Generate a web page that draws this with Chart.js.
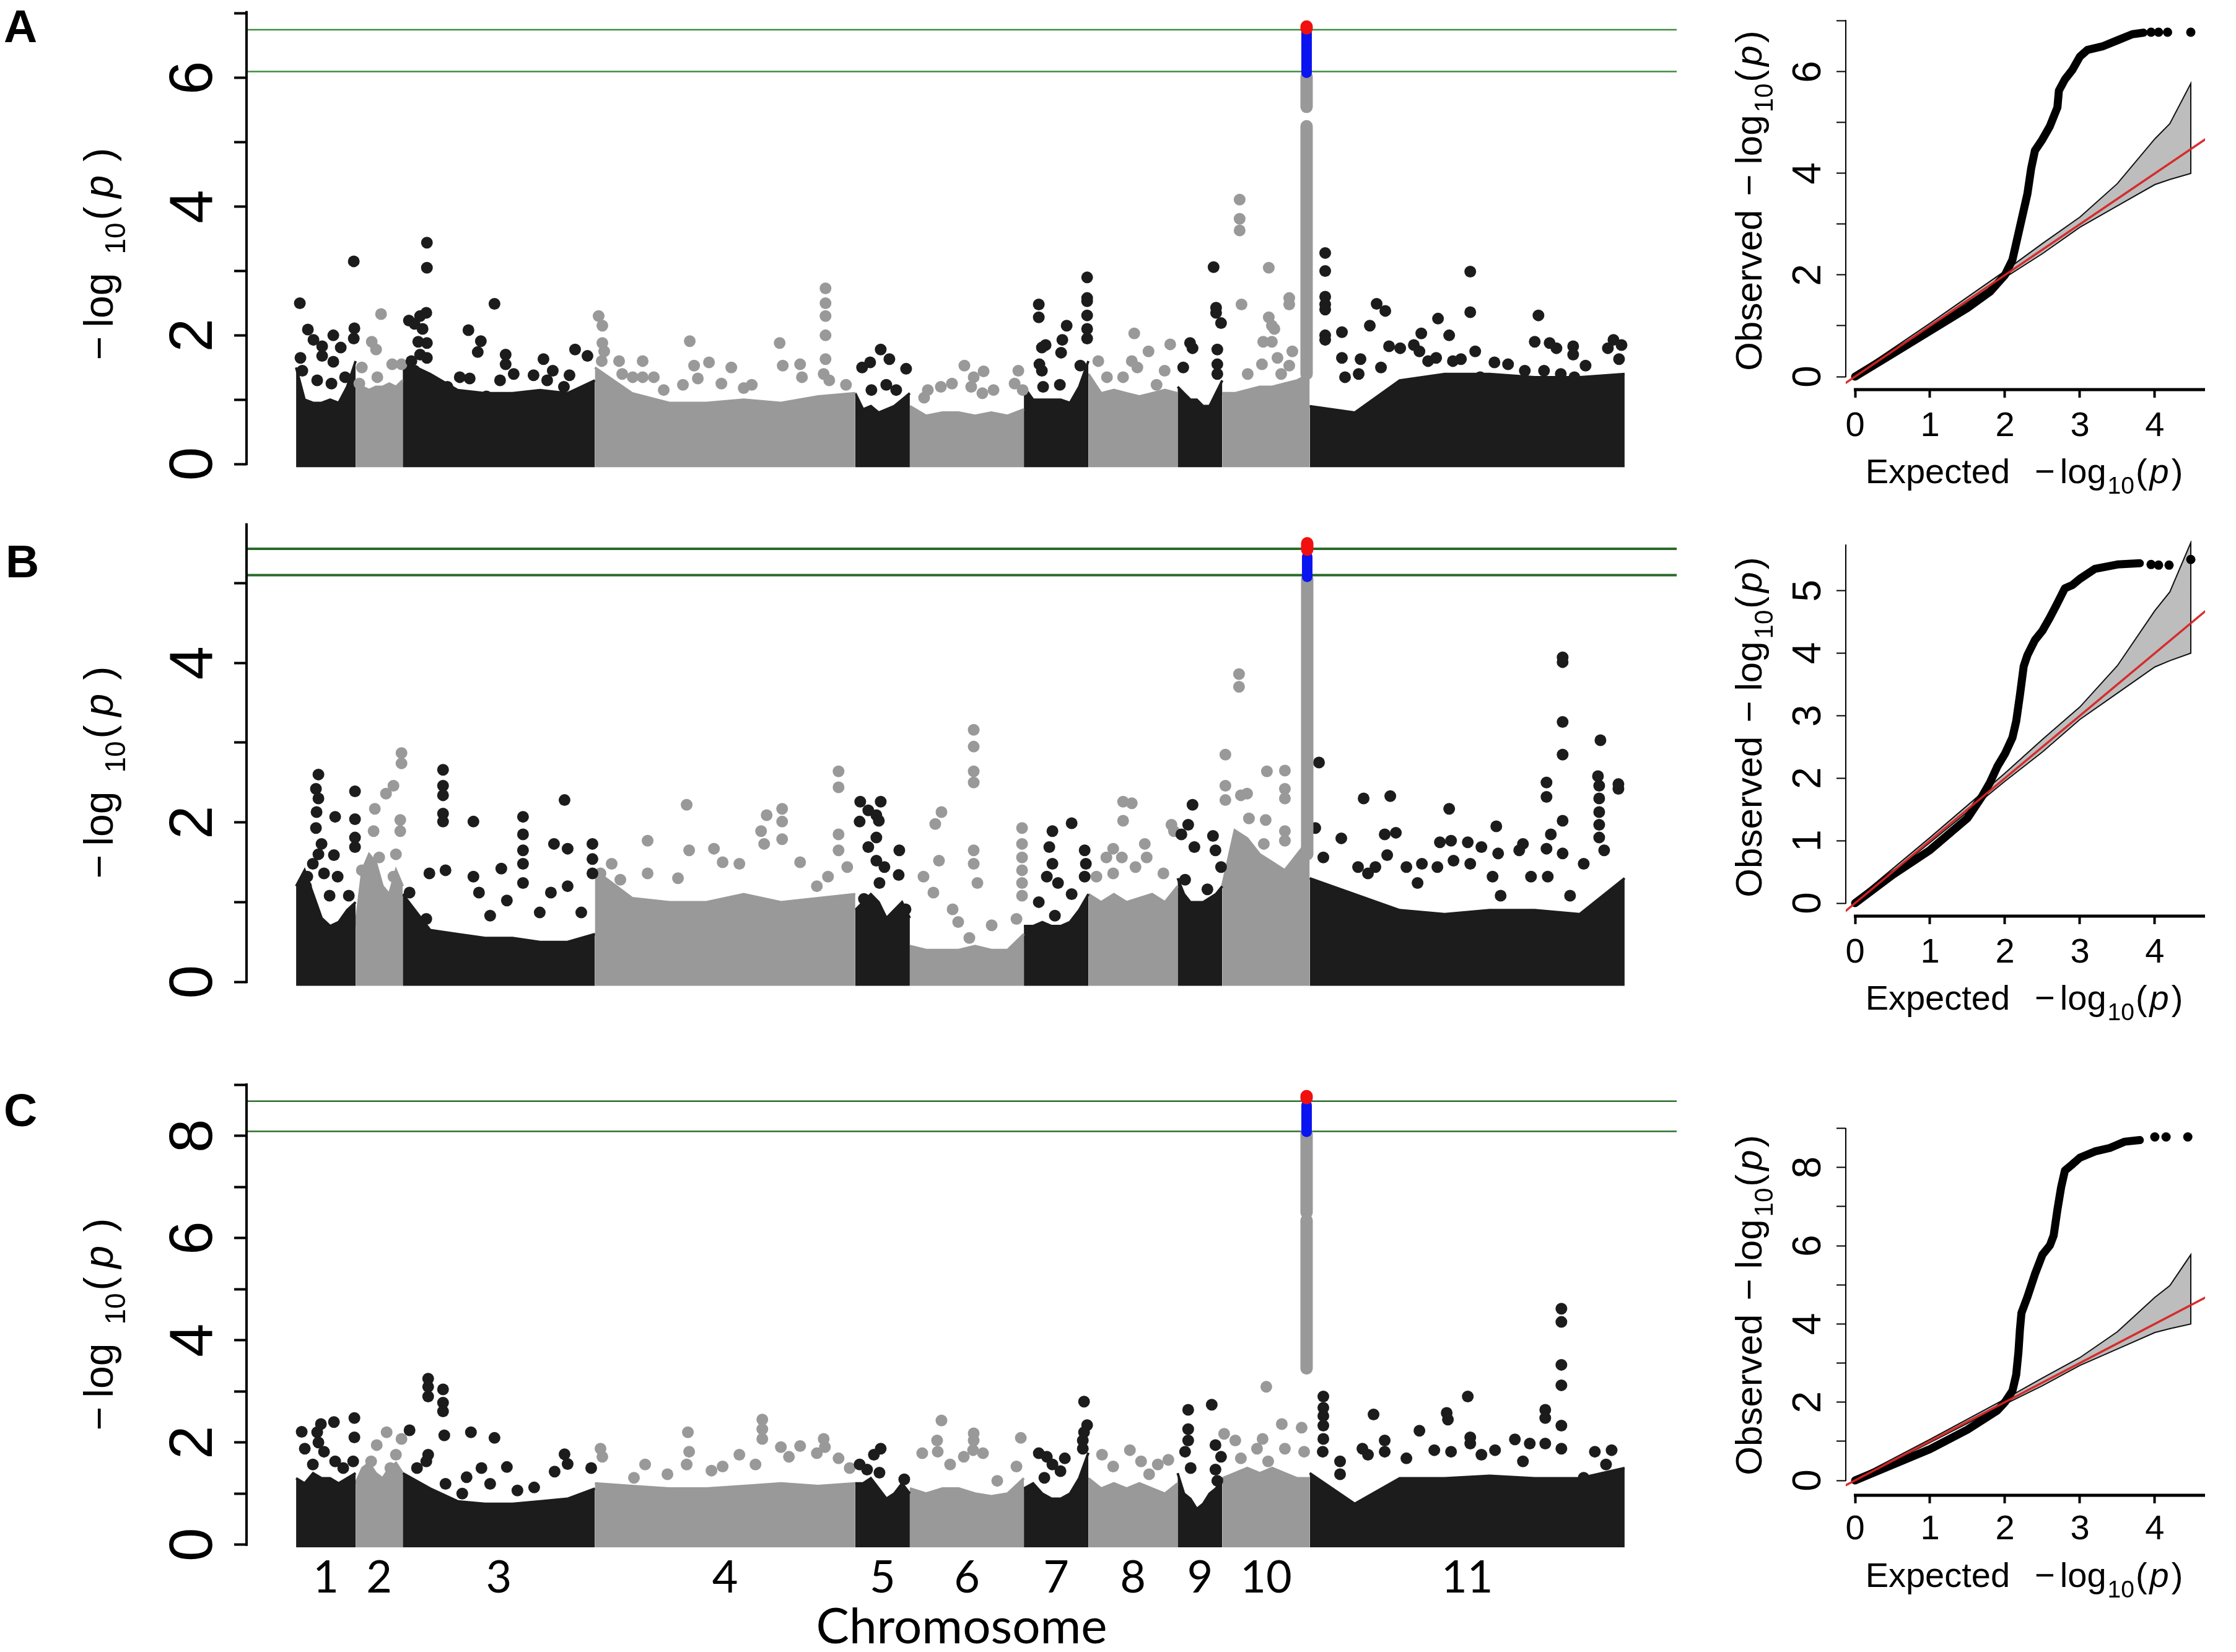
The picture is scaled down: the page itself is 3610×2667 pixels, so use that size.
<!DOCTYPE html>
<html><head><meta charset="utf-8">
<script src="https://cdn.jsdelivr.net/npm/chart.js@4.4.1/dist/chart.umd.min.js"></script>
<style>
html,body{margin:0;padding:0;background:#fff;}
body{width:3610px;height:2667px;position:relative;overflow:hidden;}
canvas{position:absolute;}
.lbl{position:absolute;font:bold 75px 'Liberation Sans',Arial,sans-serif;line-height:75px;color:#000;}
</style></head><body>
<div class="lbl" style="left:6px;top:5px">A</div>
<div class="lbl" style="left:9px;top:869px">B</div>
<div class="lbl" style="left:6px;top:1755px">C</div>
<canvas id="m0"></canvas><canvas id="m1"></canvas><canvas id="m2"></canvas>
<canvas id="q0"></canvas><canvas id="q1"></canvas><canvas id="q2"></canvas>
<script>
// ---------------- DATA ----------------
const chrLabels = ['1','2','3','4','5','6','7','8','9','10','11'];
// relative chromosome sizes (marker counts, hundreds)
const chrSizes = [96,76,310,420,88,184,104,144,72,141,508];

// upper edge of the dense marker band, 8 samples along each chromosome
const envA = [
 [1.5,1.0,0.95,0.95,1.0,0.95,1.2,1.6],[1.3,1.2,1.15,1.2,1.2,1.25,1.2,1.3],
 [1.6,1.4,1.15,1.1,1.1,1.15,1.1,1.3],[1.5,1.1,0.95,0.95,1.0,0.95,1.05,1.1],
 [1.1,0.85,0.9,0.8,0.85,0.9,1.0,1.1],[0.9,0.75,0.8,0.8,0.75,0.8,0.75,0.85],
 [1.2,1.0,1.0,1.0,1.0,0.95,1.2,1.6],[1.4,1.1,1.15,1.1,1.05,1.1,1.15,1.1],
 [1.2,1.1,1.0,1.0,0.9,0.9,1.1,1.3],[1.1,1.1,1.15,1.2,1.2,1.25,1.3,1.4],
 [0.9,0.8,1.3,1.4,1.4,1.35,1.35,1.4]];
const envB = [
 [1.2,1.4,1.1,0.8,0.7,0.75,0.9,1.0],[0.7,1.4,1.6,1.5,1.2,1.1,1.4,1.2],
 [1.1,0.65,0.6,0.55,0.55,0.5,0.5,0.6],[1.4,1.05,1.0,1.0,1.1,1.0,1.05,1.1],
 [0.9,1.0,1.1,1.0,0.8,0.9,1.0,0.8],[0.45,0.4,0.4,0.4,0.45,0.4,0.4,0.6],
 [0.7,0.7,0.75,0.7,0.7,0.75,0.9,1.1],[1.1,1.0,1.1,1.0,1.05,1.1,1.0,1.2],
 [1.3,1.1,1.0,1.0,1.0,1.05,1.1,1.2],[1.2,1.9,1.8,1.6,1.5,1.4,1.6,1.8],
 [1.3,1.1,0.9,0.85,0.9,0.9,0.85,1.3]];
const envC = [
 [1.3,1.2,1.4,1.3,1.3,1.2,1.3,1.4],[1.2,1.5,1.6,1.4,1.3,1.5,1.6,1.4],
 [1.4,1.1,0.85,0.8,0.8,0.85,0.9,1.1],[1.2,1.15,1.1,1.1,1.15,1.2,1.15,1.2],
 [1.2,1.2,1.3,1.1,0.9,1.0,1.2,1.0],[1.1,1.0,1.1,1.1,1.0,0.95,1.0,1.3],
 [1.1,1.2,1.0,0.9,0.9,1.0,1.3,1.8],[1.3,1.1,1.2,1.1,1.2,1.1,1.0,1.2],
 [1.4,1.0,0.9,0.7,0.8,1.0,1.1,1.3],[1.3,1.4,1.5,1.4,1.5,1.4,1.3,1.3],
 [1.4,0.8,1.3,1.3,1.35,1.3,1.3,1.5]];
const bandBase = [-0.05,-0.05,-0.05];

// individual markers above the band: [cumulative position, -log10(p)]
const ptsA = [
 [6,2.5],[19,2.09],[28,1.93],[42,1.83],[42,1.68],[60,2.0],[72,1.81],[93,3.15],[94,2.11],[93,1.95],[7,1.65],[60,1.59],[79,1.35],[34,1.3],[10,1.45],[57,1.25],
 [137,2.33],[122,1.9],[129,1.78],[131,1.35],[155,1.55],[170,1.55],[106,1.5],[102,1.25],
 [211,3.44],[211,3.05],[210,2.35],[200,2.3],[182,2.23],[191,2.18],[204,2.1],[197,1.9],[211,1.88],[200,1.7],[186,1.6],[211,1.65],[191,1.45],[320,2.49],[278,2.08],[298,1.91],[293,1.74],[338,1.7],[338,1.55],[399,1.63],[450,1.78],[470,1.68],[414,1.45],[441,1.38],[264,1.35],[280,1.33],[351,1.4],[383,1.38],[405,1.3],[432,1.2],[329,1.3],[244,1.2],[307,1.05],
 [488,2.3],[494,2.15],[494,1.88],[497,1.75],[493,1.6],[521,1.6],[526,1.4],[543,1.35],[559,1.6],[559,1.35],[577,1.35],[635,1.91],[642,1.53],[666,1.58],[648,1.33],[702,1.5],[686,1.25],[722,1.18],[735,1.23],[780,1.88],[785,1.53],[813,1.55],[854,2.73],[854,2.5],[854,2.3],[854,2.0],[854,1.63],[851,1.4],[816,1.35],[860,1.3],[887,1.23],[624,1.23],[593,1.15],
 [943,1.78],[926,1.58],[957,1.63],[984,1.48],[913,1.5],[952,1.23],[928,1.15],[968,1.15],
 [1078,1.53],[1093,1.35],[1109,1.44],[1089,1.2],[1058,1.25],[1040,1.2],[1019,1.15],[1013,1.03],[1125,1.15],[1165,1.45],[1159,1.25],[1172,1.15],[1107,1.1],
 [1198,2.48],[1198,2.28],[1276,2.9],[1276,2.58],[1276,2.53],[1276,2.31],[1276,2.1],[1276,1.95],[1243,2.15],[1236,1.93],[1234,1.73],[1209,1.85],[1203,1.81],[1199,1.55],[1203,1.45],[1265,1.53],[1205,1.2],[1232,1.23],
 [1352,2.03],[1410,1.86],[1375,1.75],[1348,1.6],[1294,1.6],[1357,1.5],[1334,1.35],[1388,1.23],[1401,1.45],[1308,1.35],
 [1480,3.06],[1484,2.43],[1484,2.35],[1492,2.19],[1486,1.78],[1486,1.55],[1486,1.4],[1442,1.88],[1446,1.8],[1431,1.5],
 [1522,4.11],[1522,3.81],[1522,3.63],[1569,3.05],[1525,2.48],[1602,2.58],[1602,2.48],[1569,2.28],[1574,2.15],[1578,2.1],[1560,1.9],[1574,1.9],[1583,1.65],[1607,1.75],[1558,1.55],[1602,1.53],[1535,1.4],[1589,1.4],
 [1660,3.28],[1660,3.0],[1660,2.6],[1660,2.48],[1660,2.4],[1660,2.0],[1660,1.93],[1687,2.05],[1687,1.65],[1732,2.15],[1743,2.49],[1757,2.38],[1717,1.63],[1815,2.03],[1842,2.26],[1860,2.0],[1894,2.99],[1894,2.36],[1902,1.75],[1879,1.63],[2004,2.31],[1998,1.9],[2022,1.88],[2033,1.8],[2060,1.83],[2060,1.7],[2125,1.93],[2138,1.85],[2116,1.8],[2134,1.63],[1763,1.83],[1781,1.8],[1803,1.85],[1812,1.75],[1826,1.6],[1839,1.65],[1866,1.6],[1933,1.58],[1955,1.55],[1982,1.45],[2013,1.45],[2040,1.4],[2080,1.53],[1750,1.5],[1714,1.4],[1692,1.35],[1910,1.35],[2062,1.35]];
const ptsB = [
 [36,2.6],[32,2.42],[36,2.3],[33,2.13],[32,1.93],[41,1.73],[36,1.6],[63,2.07],[61,1.59],[95,2.39],[95,2.04],[95,1.81],[95,1.69],[67,1.32],[45,1.36],[18,1.32],[85,1.08],[54,1.08],[27,1.48],[16,1.2],
 [170,2.87],[170,2.74],[157,2.46],[145,2.36],[127,2.17],[168,2.03],[168,1.89],[125,1.89],[134,1.56],[161,1.6],[157,1.32],[106,1.4],
 [237,2.66],[237,2.46],[237,2.34],[237,2.11],[237,2.01],[286,2.01],[366,2.07],[366,1.85],[433,2.28],[416,1.73],[438,1.67],[478,1.73],[478,1.54],[478,1.36],[366,1.65],[366,1.48],[366,1.24],[331,1.42],[286,1.32],[241,1.4],[215,1.36],[210,0.79],[295,1.12],[340,1.02],[393,0.87],[411,1.12],[438,1.2],[460,0.87],[183,1.12],[313,0.83],
 [875,2.64],[875,2.44],[630,2.22],[759,2.09],[784,2.17],[750,1.89],[755,1.73],[784,2.01],[784,1.79],[567,1.77],[634,1.65],[674,1.67],[688,1.5],[715,1.48],[567,1.36],[616,1.3],[813,1.5],[875,1.85],[875,1.65],[858,1.32],[509,1.48],[523,1.28],[889,1.44],[491,1.36],[840,1.2],
 [910,2.26],[943,2.26],[923,2.15],[936,2.09],[940,2.02],[909,2.01],[936,1.81],[923,1.69],[973,1.65],[936,1.52],[949,1.44],[972,1.34],[941,1.24],[916,1.04],[983,0.91],
 [1093,3.16],[1093,2.95],[1093,2.64],[1093,2.5],[1041,2.13],[1031,1.98],[1037,1.52],[1093,1.65],[1093,1.48],[1099,1.24],[1012,1.32],[1028,1.12],[1059,0.91],[1068,0.75],[1171,1.93],[1171,1.73],[1171,1.56],[1171,1.4],[1171,1.24],[1171,1.08],[1162,0.79],[1122,0.71],[1086,0.55],
 [1251,1.99],[1220,1.89],[1215,1.69],[1272,1.65],[1220,1.48],[1274,1.48],[1211,1.32],[1229,1.24],[1251,1.1],[1198,1.0],[1272,1.32],[1224,0.83],
 [1334,2.26],[1348,2.24],[1334,2.02],[1318,1.67],[1332,1.56],[1307,1.56],[1369,1.73],[1372,1.56],[1354,1.44],[1412,1.97],[1416,1.89],[1399,1.36],[1291,1.32],[1318,1.36],
 [1446,2.22],[1439,1.97],[1428,1.85],[1449,1.69],[1479,1.83],[1483,1.65],[1492,1.44],[1434,1.28],[1470,1.16],
 [1521,3.86],[1521,3.7],[1499,2.85],[1499,2.46],[1499,2.28],[1566,2.64],[1595,2.65],[1595,2.42],[1595,2.3],[1524,2.34],[1534,2.36],[1564,2.03],[1595,1.89],[1595,1.77],[1537,2.05],[1561,1.73],
 [1650,2.75],[1722,2.3],[1765,2.33],[1860,2.17],[1936,1.95],[2043,4.07],[2043,4.01],[2043,3.26],[2043,2.85],[2043,2.02],[2043,1.61],[2104,3.03],[2017,2.5],[2017,2.32],[2133,2.42],[2133,2.48],[2100,2.58],[2102,2.46],[2102,2.3],[2102,2.13],[2102,1.97],[2102,1.81],[2110,1.65],[2024,1.85],[2017,1.67],[1979,1.73],[1973,1.65],[1939,1.61],[1912,1.69],[1890,1.75],[1863,1.77],[1845,1.75],[1774,1.87],[1756,1.85],[1686,1.8],[1760,1.59],[1741,1.44],[1713,1.44],[1729,1.36],[1791,1.44],[1816,1.48],[1841,1.44],[1867,1.52],[1894,1.48],[1930,1.32],[1992,1.32],[2077,1.48],[2019,1.32],[2055,1.08],[1809,1.24],[1943,1.08],[1657,1.56],[1644,1.93]];
const ptsC = [
 [9,2.21],[40,2.36],[61,2.4],[94,2.48],[94,2.1],[34,2.2],[36,2.0],[27,1.57],[63,1.63],[76,1.5],[92,1.63],[14,1.88],[45,1.82],
 [146,2.2],[170,2.07],[161,1.76],[130,1.95],[121,1.63],[152,1.5],
 [213,3.25],[213,3.09],[213,2.9],[237,3.04],[237,2.78],[237,2.61],[183,2.24],[239,2.14],[282,2.2],[320,2.09],[213,1.76],[210,1.63],[195,1.5],[275,1.32],[299,1.5],[340,1.52],[433,1.77],[438,1.58],[417,1.43],[476,1.5],[384,1.12],[357,1.06],[241,1.19],[268,1.0],[313,1.19],
 [752,2.45],[752,2.26],[752,2.07],[632,2.2],[634,1.82],[630,1.57],[491,1.88],[494,1.72],[563,1.57],[782,1.91],[813,1.93],[851,2.07],[853,1.91],[795,1.72],[840,1.79],[875,1.69],[715,1.76],[741,1.57],[688,1.53],[670,1.45],[599,1.38],[545,1.31],[893,1.5],
 [943,1.88],[932,1.76],[909,1.57],[921,1.47],[941,1.41],[981,1.28],
 [1041,2.43],[1034,2.04],[1035,1.82],[1093,2.18],[1093,2.04],[1010,1.79],[1077,1.72],[1108,1.79],[1169,2.09],[1055,1.57],[1092,1.85],[1131,1.25],[1162,1.53],
 [1271,2.8],[1276,2.34],[1271,2.2],[1269,2.04],[1269,1.88],[1198,1.79],[1211,1.72],[1240,1.69],[1220,1.57],[1233,1.44],[1207,1.31],
 [1345,1.85],[1300,1.76],[1318,1.53],[1363,1.63],[1390,1.57],[1407,1.66],[1376,1.38],
 [1439,2.64],[1439,2.26],[1439,2.04],[1477,2.74],[1483,1.95],[1492,1.72],[1483,1.47],[1486,1.25],[1443,1.5],[1434,1.82],
 [1565,3.09],[1590,2.36],[1622,2.29],[1559,2.07],[1515,2.04],[1497,2.17],[1550,1.88],[1595,1.88],[1626,1.82],[1568,1.63],[1524,1.69],
 [1657,2.9],[1657,2.68],[1657,2.52],[1657,2.33],[1657,2.07],[1656,1.82],[1684,1.63],[1684,1.38],[1738,2.55],[1756,2.04],[1756,1.82],[1812,2.23],[1856,2.58],[1858,2.45],[1890,2.9],[1894,2.1],[1894,1.98],[1966,2.06],[1990,1.98],[2015,2.64],[2015,2.48],[2015,1.98],[2041,4.62],[2041,4.36],[2041,3.52],[2041,3.12],[2041,2.33],[2041,1.88],[1934,1.85],[1912,1.76],[1836,1.85],[1863,1.82],[1791,1.69],[1729,1.76],[1979,1.63],[2095,1.82],[2122,1.85],[2113,1.57],[2077,1.31],[1720,1.88]];

// the chromosome 10 peak (dense column of markers)
const peakX = [1630,1631,1630];
const peakGray = [[[1.4,5.25],[5.55,6.02]], [[1.6,5.05]], [[3.45,6.35],[6.5,8.05]]];
const peakBlue = [[6.08,6.7],[5.08,5.33],[8.08,8.6]];
const peakRed = [[6.77,6.8],[5.42,5.5],[8.74,8.78]];
const thresholds = [[6.75,6.10],[5.43,5.10],[8.68,8.09]];

// Manhattan y axes
const mAxisTop = [7.04,5.75,9.03];
const mTicks = [[0,1,2,3,4,5,6,7],[0,1,2,3,4,5],[0,1,2,3,4,5,6,7,8,9]];

// QQ plots: observed curve, sparse top points, confidence band
const qqObsA = [[0,0],[0.5,0.45],[1,0.9],[1.5,1.35],[1.8,1.67],[2.0,2.0],[2.1,2.3],[2.2,2.95],[2.3,3.6],[2.35,4.1],[2.4,4.45],[2.5,4.67],[2.6,4.93],[2.7,5.3],[2.72,5.63],[2.8,5.85],[2.9,6.04],[3.0,6.3],[3.1,6.43],[3.3,6.5],[3.5,6.62],[3.7,6.74],[3.85,6.77]];
const qqTailA = [[3.95,6.78],[4.05,6.78],[4.17,6.78],[4.48,6.78]];
const qqObsB = [[0,0],[0.5,0.45],[1,0.85],[1.5,1.36],[1.7,1.72],[1.8,1.93],[1.9,2.19],[2.0,2.39],[2.1,2.65],[2.15,2.91],[2.2,3.33],[2.25,3.79],[2.3,3.97],[2.4,4.21],[2.5,4.36],[2.6,4.57],[2.7,4.8],[2.8,5.04],[2.9,5.09],[3.0,5.19],[3.2,5.35],[3.5,5.42],[3.8,5.44]];
const qqTailB = [[3.95,5.42],[4.05,5.41],[4.19,5.41],[4.48,5.5]];
const qqObsC = [[0,0],[0.5,0.4],[1,0.8],[1.5,1.3],[1.9,1.79],[2.0,2.0],[2.1,2.29],[2.15,2.7],[2.18,3.28],[2.2,3.86],[2.22,4.28],[2.3,4.69],[2.4,5.27],[2.5,5.77],[2.6,6.01],[2.65,6.26],[2.7,6.92],[2.75,7.5],[2.8,7.92],[2.9,8.08],[3.0,8.25],[3.2,8.41],[3.4,8.5],[3.6,8.66],[3.8,8.7]];
const qqTailC = [[4.0,8.78],[4.15,8.78],[4.44,8.78]];
const ciX = [0,1,2,2.5,3,3.5,4,4.2,4.48];
const ciUpper = [0.05,1.05,2.08,2.62,3.14,3.8,4.68,4.98,5.77];
const ciLower = [0,0.97,1.95,2.42,2.94,3.36,3.78,3.88,4.0];
const qqAxisTop = [7.02,5.74,9.01];
const qqTicks = [[0,1,2,3,4,5,6,7],[0,1,2,3,4,5],[0,1,2,3,4,5,6,7,8,9]];
const qqLabelAll = [false,true,false];
const qqXTicks = [0,1,2,3,4];

// ---------------- DRAWING ----------------
Chart.defaults.font.family = "'Liberation Sans', Arial, sans-serif";
Chart.defaults.color = '#000';
const BLACK = '#1c1c1c', GRAY = '#999999';
const chrStart = []; chrSizes.reduce((a, s, i) => { chrStart[i] = a; return a + s; }, 0);
const chrCenters = chrSizes.map((s, i) => chrStart[i] + s / 2);
const chrColor = i => (i % 2 === 0 ? BLACK : GRAY);
function chrOf(x) { for (let i = chrSizes.length - 1; i >= 0; i--) if (x >= chrStart[i]) return i; return 0; }
const X_MIN = -80, X_MAX = 2227;

function drawMath(ctx, parts, cx, cy, size, rotated) {
  ctx.save();
  const fontOf = p => (p.it ? 'italic ' : '') + Math.round(size * (p.sub ? 0.7 : 1)) + "px 'Liberation Sans', Arial, sans-serif";
  let tot = 0;
  const w = parts.map(p => { ctx.font = fontOf(p); const m = ctx.measureText(p.t).width; tot += (p.gap || 0) + m; return m; });
  ctx.translate(cx, cy);
  if (rotated) ctx.rotate(-Math.PI / 2);
  ctx.fillStyle = '#000'; ctx.textAlign = 'left'; ctx.textBaseline = 'alphabetic';
  let x = -tot / 2;
  parts.forEach((p, i) => { x += p.gap || 0; ctx.font = fontOf(p); ctx.fillText(p.t, x, 0.36 * size + (p.sub ? 0.3 * size : 0)); x += w[i]; });
  ctx.restore();
}
const mTitle = [{t:'\u2212'},{t:'log',gap:14},{t:'10',sub:true,gap:30},{t:'(',gap:4},{t:'p',it:true,gap:14},{t:')',gap:22}];
const qyTitle = [{t:'Observed'},{t:'\u2212',gap:22},{t:'log',gap:16},{t:'10',sub:true,gap:4},{t:'(',gap:2},{t:'p',it:true,gap:6},{t:')',gap:4}];
const qxTitle = [{t:'Expected'},{t:'\u2212',gap:40},{t:'log',gap:8},{t:'10',sub:true,gap:2},{t:'(',gap:2},{t:'p',it:true,gap:4},{t:')',gap:4}];

const rAxes = {
  id: 'rAxes',
  afterDraw(chart, args, o) {
    const ctx = chart.ctx, ys = chart.scales.y, xs = chart.scales.x, ca = chart.chartArea;
    ctx.save(); ctx.strokeStyle = '#000'; ctx.lineCap = 'butt';
    if (o.yLine) { ctx.lineWidth = o.yLine.w; ctx.beginPath(); ctx.moveTo(ca.left, ys.getPixelForValue(o.yLine.from) + o.yLine.w / 2); ctx.lineTo(ca.left, ys.getPixelForValue(o.yLine.to)); ctx.stroke(); }
    if (o.xLine) { ctx.lineWidth = o.xLine.w; ctx.beginPath(); ctx.moveTo(xs.getPixelForValue(o.xLine.from) - 2, ca.bottom); ctx.lineTo(ca.right, ca.bottom); ctx.stroke(); }
    ctx.restore();
    (o.titles || []).forEach(t => drawMath(ctx, t.parts, t.x - o.ox, t.y - o.oy, t.size, t.rot));
  }
};
const noPadY = (s, w) => { s.width = w; s.paddingTop = 0; s.paddingBottom = 0; };
const noPadX = (s, h) => { s.height = h; s.paddingLeft = 0; s.paddingRight = 0; };

const M_GEOM = [
  {top:0, height:775, yMin:-0.1, yMax:7.12, padTop:3.5, padBottom:15.5, green:'#3c8c3c', gw:2.5, ty:410},
  {top:800, height:820, yMin:-0.1, yMax:5.85, padTop:32, padBottom:22, green:'#2a6a2a', gw:4, ty:1247},
  {top:1700, height:967, yMin:-0.1, yMax:9.15, padTop:39, padBottom:0, green:'#2e6e2e', gw:2.5, ty:2138, xAxisH:165}
];
function seg(x, r, color, w, order) {
  return {type:'line', data:[{x:x, y:r[0]},{x:x, y:r[1]}], borderColor:color, borderWidth:w, borderCapStyle:'round', pointRadius:0, order:order, clip:false};
}
function manhattan(idx, env, pts) {
  const g = M_GEOM[idx];
  const cv = document.getElementById('m' + idx);
  cv.width = 2720; cv.height = g.height; cv.style.left = '0px'; cv.style.top = g.top + 'px';
  const ds = [];
  thresholds[idx].forEach(v => ds.push({type:'line', data:[{x:X_MIN,y:v},{x:X_MAX,y:v}], borderColor:g.green, borderWidth:g.gw, pointRadius:0, order:30}));
  env.forEach((vals, c) => ds.push({type:'line', data: vals.map((v, i) => ({x: chrStart[c] + chrSizes[c] * i / (vals.length - 1), y: v})),
    fill:{value: bandBase[idx]}, backgroundColor: chrColor(c), borderColor: chrColor(c), borderWidth: 4, pointRadius: 0, tension: 0, order: 20}));
  [0, 1].forEach(par => ds.push({type:'scatter', data: pts.filter(p => chrOf(p[0]) % 2 === par).map(p => ({x:p[0], y:p[1]})),
    backgroundColor: par === 0 ? BLACK : GRAY, borderWidth: 0, pointRadius: 9.5, order: 10, clip:false}));
  peakGray[idx].forEach(r => ds.push(seg(peakX[idx], r, GRAY, 20, 3)));
  ds.push(seg(peakX[idx], peakBlue[idx], '#0a14f0', 17, 2));
  ds.push(seg(peakX[idx], peakRed[idx], '#f01010', 20, 1));
  const isC = idx === 2;
  new Chart(cv, {
    type: 'scatter', data: {datasets: ds},
    options: {
      responsive:false, animation:false, devicePixelRatio:1, events:[],
      layout:{padding:{left:0, right:13, top:g.padTop, bottom:g.padBottom}},
      plugins:{legend:{display:false}, tooltip:{enabled:false},
        rAxes:{ox:0, oy:g.top, yLine:{from:0, to:mAxisTop[idx], w:4},
          titles:[{parts:mTitle, x:158, y:g.ty, size:66, rot:true}]}},
      scales:{
        x:{type:'linear', min:X_MIN, max:X_MAX, bounds:'data', display:isC,
          afterBuildTicks: s => { s.ticks = chrCenters.map(v => ({value:v})); },
          afterFit: s => { if (isC) noPadX(s, g.xAxisH); },
          ticks:{autoSkip:false, minRotation:0, maxRotation:0, padding:2, color:'#000',
            font:{family:'Lato', size:72, lineHeight:1}, callback:(v, i) => chrLabels[i]},
          grid:{display:false}, border:{display:false},
          title:{display:isC, text:'Chromosome', color:'#000', font:{family:'Lato', size:80, lineHeight:1}, padding:{top:0, bottom:0}}},
        y:{type:'linear', min:g.yMin, max:g.yMax, bounds:'data',
          afterBuildTicks: s => { s.ticks = mTicks[idx].map(v => ({value:v})); },
          afterFit: s => noPadY(s, 398),
          ticks:{autoSkip:false, minRotation:90, maxRotation:90, crossAlign:'center', padding:36, color:'#000',
            font:{size:98, lineHeight:1}, callback: v => (v % 2 === 0 ? String(v) : '')},
          grid:{display:true, drawOnChartArea:false, drawTicks:true, tickLength:20, tickWidth:4, tickColor:'#000'},
          border:{display:false}}
      }
    },
    plugins:[rAxes]
  });
}
manhattan(0, envA, ptsA);
manhattan(1, envB, ptsB);
manhattan(2, envC, ptsC);

const Q_GEOM = [
  {top:0, height:800, left:2740, yw:240, padRight:50, padTop:20, xh:171, xMin:-0.124, xMax:4.67, yMin:-0.256, yMax:7.17, tpad:19, ty:324, xty:760},
  {top:840, height:820, left:2740, yw:240, padRight:50, padTop:33, xh:181, xMin:-0.124, xMax:4.67, yMin:-0.208, yMax:5.8, tpad:19, ty:1174, xty:1610},
  {top:1760, height:907, left:2740, yw:240, padRight:50, padTop:49, xh:253, xMin:-0.124, xMax:4.67, yMin:-0.38, yMax:9.2, tpad:15, ty:2107, xty:2542}
];
function qq(idx, obs, tail) {
  const g = Q_GEOM[idx];
  const cv = document.getElementById('q' + idx);
  cv.width = 3610 - g.left; cv.height = g.height; cv.style.left = g.left + 'px'; cv.style.top = g.top + 'px';
  const band = ciX.map((x, i) => ({x:x, y:ciUpper[i]})).concat(ciX.map((x, i) => ({x:x, y:ciLower[i]})).reverse());
  const ds = [
    {type:'line', data: band, fill:'shape', backgroundColor:'#bdbdbd', borderColor:'#111', borderWidth:2, pointRadius:0, tension:0, order:5},
    {type:'line', data: obs.map(p => ({x:p[0], y:p[1]})), borderColor:'#000', borderWidth:13, borderJoinStyle:'round', borderCapStyle:'round', pointRadius:0, tension:0, order:3, clip:false},
    {type:'scatter', data: tail.map(p => ({x:p[0], y:p[1]})), backgroundColor:'#000', borderWidth:0, pointRadius:7.5, order:2, clip:false},
    {type:'line', data:[{x:-0.3,y:-0.3},{x:4.8,y:4.8}], borderColor:'rgba(214,36,36,0.95)', borderWidth:3.5, pointRadius:0, order:1}
  ];
  new Chart(cv, {
    type:'scatter', data:{datasets:ds},
    options:{
      responsive:false, animation:false, devicePixelRatio:1, events:[],
      layout:{padding:{left:0, right:g.padRight, top:g.padTop, bottom:0}},
      plugins:{legend:{display:false}, tooltip:{enabled:false},
        rAxes:{ox:g.left, oy:g.top, yLine:{from:0, to:qqAxisTop[idx], w:2}, xLine:{from:0, w:5},
          titles:[{parts:qyTitle, x:2822, y:g.ty, size:60, rot:true},
                  {parts:qxTitle, x:3268, y:g.xty, size:56, rot:false}]}},
      scales:{
        x:{type:'linear', min:g.xMin, max:g.xMax, bounds:'data',
          afterBuildTicks: s => { s.ticks = qqXTicks.map(v => ({value:v})); },
          afterFit: s => noPadX(s, g.xh),
          ticks:{autoSkip:false, minRotation:0, maxRotation:0, padding:g.tpad, color:'#000', font:{size:56, lineHeight:1}},
          grid:{display:true, drawOnChartArea:false, drawTicks:true, tickLength:13, tickWidth:4, tickColor:'#000'},
          border:{display:false}},
        y:{type:'linear', min:g.yMin, max:g.yMax, bounds:'data',
          afterBuildTicks: s => { s.ticks = qqTicks[idx].map(v => ({value:v})); },
          afterFit: s => noPadY(s, g.yw),
          ticks:{autoSkip:false, minRotation:90, maxRotation:90, crossAlign:'center', padding:26, color:'#000',
            font:{size:64, lineHeight:1}, callback: v => (qqLabelAll[idx] || v % 2 === 0 ? String(v) : '')},
          grid:{display:true, drawOnChartArea:false, drawTicks:true, tickLength:15, tickWidth:2, tickColor:'#000'},
          border:{display:false}}
      }
    },
    plugins:[rAxes]
  });
}
qq(0, qqObsA, qqTailA);
qq(1, qqObsB, qqTailB);
qq(2, qqObsC, qqTailC);
</script>
</body></html>
